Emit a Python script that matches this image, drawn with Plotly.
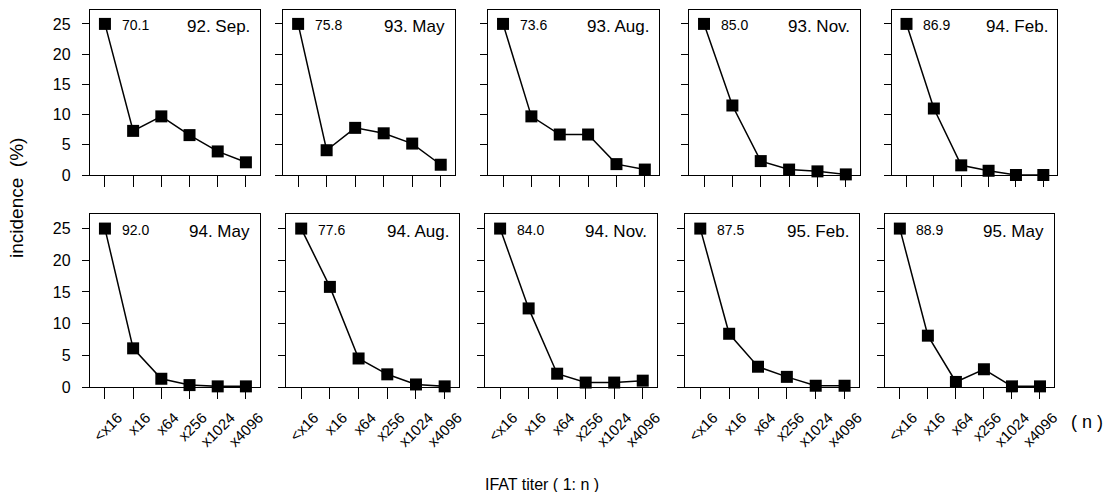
import plotly.graph_objects as go

# ---- data ----
titer_labels = ["<x16", "x16", "x64", "x256", "x1024", "x4096"]
panel_titles = ["92. Sep.", "93. May", "93. Aug.", "93. Nov.", "94. Feb.",
                "94. May", "94. Aug.", "94. Nov.", "95. Feb.", "95. May"]
# incidence (%) at <x16 (actual value, printed as label; drawn clipped at top)
first_values = [70.1, 75.8, 73.6, 85.0, 86.9, 92.0, 77.6, 84.0, 87.5, 88.9]
# incidence (%) at x16 ... x4096
rest_values = [
    [7.3, 9.7, 6.6, 3.9, 2.1],
    [4.1, 7.8, 6.9, 5.2, 1.7],
    [9.7, 6.7, 6.7, 1.8, 0.9],
    [11.5, 2.3, 0.9, 0.6, 0.1],
    [11.0, 1.6, 0.7, 0.0, 0.0],
    [6.1, 1.3, 0.3, 0.1, 0.1],
    [15.8, 4.5, 2.0, 0.4, 0.1],
    [12.4, 2.1, 0.7, 0.7, 1.0],
    [8.4, 3.2, 1.6, 0.2, 0.2],
    [8.1, 0.8, 2.8, 0.1, 0.1],
]
y_cap = 25
y_ticks = [0, 5, 10, 15, 20, 25]

# ---- layout geometry (pixels) ----
W, H = 1107, 492
row_px = [(10, 175), (214, 387)]
col_px = [
    [(90, 260), (283, 455), (488, 659), (689, 860), (892, 1057)],
    [(90, 260), (286, 459), (485, 657), (685, 859), (885, 1054)],
]
FONT = "Liberation Sans, Arial, sans-serif"

fig = go.Figure()
layout = {}
annotations = []
xs = list(range(len(titer_labels)))

for i in range(10):
    r, c = divmod(i, 5)
    n = i + 1
    xa = "x" if n == 1 else f"x{n}"
    ya = "y" if n == 1 else f"y{n}"
    yvals = [min(first_values[i], y_cap)] + rest_values[i]
    fig.add_trace(go.Scatter(
        x=xs, y=yvals, xaxis=xa, yaxis=ya, mode="lines+markers",
        line=dict(color="black", width=1.5),
        marker=dict(symbol="square", size=12, color="black"),
        cliponaxis=False, showlegend=False, hoverinfo="skip",
    ))
    x0, x1 = col_px[r][c]
    t, b = row_px[r]
    layout[f"xaxis{'' if n == 1 else n}"] = dict(
        domain=[x0 / W, x1 / W], anchor=ya, range=[-0.53, 5.5],
        tickmode="array", tickvals=xs,
        ticktext=titer_labels if r == 1 else [""] * 6,
        showticklabels=(r == 1), tickangle=-45, automargin=False,
        ticklabelshift=13, ticklabelstandoff=4,
        ticks="outside", ticklen=11, tickwidth=1.2, tickcolor="black",
        showline=True, linecolor="black", linewidth=1.3, mirror=True,
        showgrid=False, zeroline=False,
        tickfont=dict(family=FONT, size=15, color="black"),
    )
    layout[f"yaxis{'' if n == 1 else n}"] = dict(
        domain=[1 - b / H, 1 - t / H], anchor=xa, range=[0, 27.3],
        tickmode="array", tickvals=y_ticks, showticklabels=(c == 0),
        automargin=False, ticklabelstandoff=8,
        ticks="outside", ticklen=7, tickwidth=1.2, tickcolor="black",
        showline=True, linecolor="black", linewidth=1.3, mirror=True,
        showgrid=False, zeroline=False,
        tickfont=dict(family=FONT, size=16, color="black"),
    )
    annotations.append(dict(
        x=0.52, y=24.8, xref=xa, yref=ya, text=f"{first_values[i]:.1f}",
        showarrow=False, xanchor="left", yanchor="middle",
        font=dict(family=FONT, size=14, color="black"),
    ))
    annotations.append(dict(
        x=0.955, y=24.5, xref=f"{xa} domain", yref=ya, text=panel_titles[i],
        showarrow=False, xanchor="right", yanchor="middle",
        font=dict(family=FONT, size=17, color="black"),
    ))

annotations.append(dict(
    x=16 / W, y=1 - 198 / H, xref="paper", yref="paper",
    text="incidence\u00a0\u00a0(%)", textangle=-90, showarrow=False,
    xanchor="center", yanchor="middle",
    font=dict(family=FONT, size=19, color="black"),
))
annotations.append(dict(
    x=542 / W, y=1 - 484 / H, xref="paper", yref="paper",
    text="IFAT titer ( 1: n )", showarrow=False,
    xanchor="center", yanchor="middle",
    font=dict(family=FONT, size=16, color="black"),
))
annotations.append(dict(
    x=1105 / W, y=1 - 422 / H, xref="paper", yref="paper",
    text="( n )", showarrow=False, xanchor="right", yanchor="middle",
    font=dict(family=FONT, size=18, color="black"),
))

fig.update_layout(
    width=W, height=H, margin=dict(l=0, r=0, t=0, b=0),
    paper_bgcolor="white", plot_bgcolor="white",
    annotations=annotations, **layout,
)
fig.write_html(
    "out.html",
    config={"displayModeBar": False},
    post_script="document.body.style.margin='0';document.body.style.overflow='hidden';",
)
